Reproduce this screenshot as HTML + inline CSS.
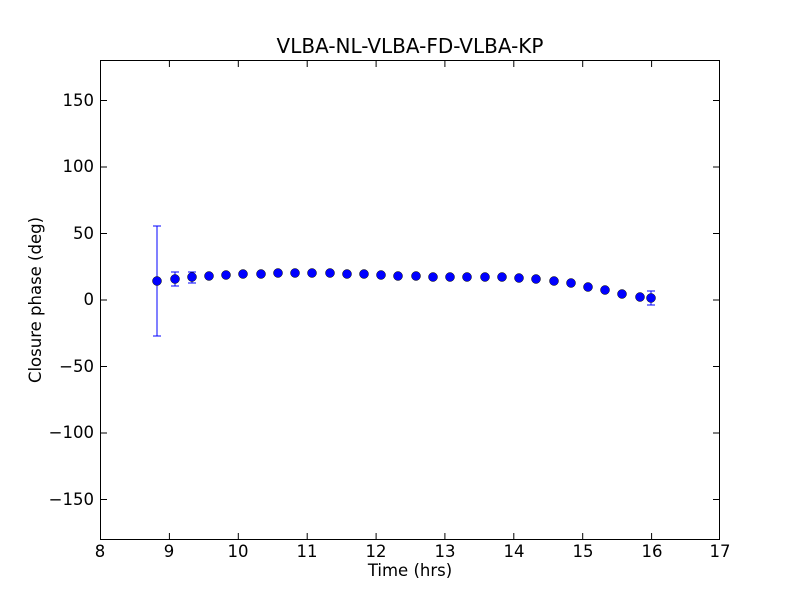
<!DOCTYPE html>
<html><head><style>body{margin:0;background:#fff}</style></head><body>
<svg width="800" height="600" xmlns="http://www.w3.org/2000/svg" font-family="DejaVu Sans, sans-serif">
<rect width="800" height="600" fill="#fff"/>
<text x="410" y="53" font-size="20" text-anchor="middle">VLBA-NL-VLBA-FD-VLBA-KP</text>
<g stroke="#000" stroke-width="1">
<line x1="100.5" y1="533" x2="100.5" y2="540"/><line x1="100.5" y1="60" x2="100.5" y2="67"/>
<line x1="169.4" y1="533" x2="169.4" y2="540"/><line x1="169.4" y1="60" x2="169.4" y2="67"/>
<line x1="238.3" y1="533" x2="238.3" y2="540"/><line x1="238.3" y1="60" x2="238.3" y2="67"/>
<line x1="307.2" y1="533" x2="307.2" y2="540"/><line x1="307.2" y1="60" x2="307.2" y2="67"/>
<line x1="376.1" y1="533" x2="376.1" y2="540"/><line x1="376.1" y1="60" x2="376.1" y2="67"/>
<line x1="444.9" y1="533" x2="444.9" y2="540"/><line x1="444.9" y1="60" x2="444.9" y2="67"/>
<line x1="513.8" y1="533" x2="513.8" y2="540"/><line x1="513.8" y1="60" x2="513.8" y2="67"/>
<line x1="582.7" y1="533" x2="582.7" y2="540"/><line x1="582.7" y1="60" x2="582.7" y2="67"/>
<line x1="651.6" y1="533" x2="651.6" y2="540"/><line x1="651.6" y1="60" x2="651.6" y2="67"/>
<line x1="100" y1="100.5" x2="107" y2="100.5"/><line x1="713" y1="100.5" x2="720" y2="100.5"/>
<line x1="100" y1="167" x2="107" y2="167"/><line x1="713" y1="167" x2="720" y2="167"/>
<line x1="100" y1="233.5" x2="107" y2="233.5"/><line x1="713" y1="233.5" x2="720" y2="233.5"/>
<line x1="100" y1="300" x2="107" y2="300"/><line x1="713" y1="300" x2="720" y2="300"/>
<line x1="100" y1="366.5" x2="107" y2="366.5"/><line x1="713" y1="366.5" x2="720" y2="366.5"/>
<line x1="100" y1="433" x2="107" y2="433"/><line x1="713" y1="433" x2="720" y2="433"/>
<line x1="100" y1="499.5" x2="107" y2="499.5"/><line x1="713" y1="499.5" x2="720" y2="499.5"/>
</g>
<g font-size="16.5" text-anchor="middle">
<text x="100" y="557">8</text><text x="169" y="557">9</text><text x="238" y="557">10</text><text x="307" y="557">11</text><text x="376" y="557">12</text><text x="445" y="557">13</text><text x="514" y="557">14</text><text x="583" y="557">15</text><text x="652" y="557">16</text><text x="720" y="557">17</text>
</g>
<g font-size="16.5" text-anchor="end">
<text x="94" y="106">150</text><text x="94" y="172">100</text><text x="94" y="239">50</text><text x="94" y="305">0</text><text x="94" y="372">−50</text><text x="94" y="438">−100</text><text x="94" y="505">−150</text>
</g>
<text x="410" y="576" font-size="16.5" text-anchor="middle">Time (hrs)</text>
<text transform="translate(41,300) rotate(-90)" font-size="16.5" text-anchor="middle">Closure phase (deg)</text>
<g stroke="#0000ff" stroke-width="1" fill="none">
<line x1="157" y1="226" x2="157" y2="336"/><line x1="153" y1="226" x2="161" y2="226"/><line x1="153" y1="336" x2="161" y2="336"/>
<line x1="175" y1="272" x2="175" y2="286"/><line x1="171" y1="272" x2="179" y2="272"/><line x1="171" y1="286" x2="179" y2="286"/>
<line x1="192" y1="272" x2="192" y2="283"/><line x1="188" y1="272" x2="196" y2="272"/><line x1="188" y1="283" x2="196" y2="283"/>
<line x1="651" y1="291" x2="651" y2="305"/><line x1="647" y1="291" x2="655" y2="291"/><line x1="647" y1="305" x2="655" y2="305"/>
</g>
<g fill="#0000ff" stroke="#000" stroke-width="0.5">
<circle cx="157" cy="281" r="4.5"/><circle cx="175" cy="279" r="4.5"/><circle cx="192" cy="277" r="4.5"/><circle cx="209" cy="276" r="4.5"/><circle cx="226" cy="275" r="4.5"/><circle cx="243" cy="274" r="4.5"/><circle cx="261" cy="274" r="4.5"/><circle cx="278" cy="273" r="4.5"/><circle cx="295" cy="273" r="4.5"/><circle cx="312" cy="273" r="4.5"/><circle cx="330" cy="273" r="4.5"/><circle cx="347" cy="274" r="4.5"/><circle cx="364" cy="274" r="4.5"/><circle cx="381" cy="275" r="4.5"/><circle cx="398" cy="276" r="4.5"/><circle cx="416" cy="276" r="4.5"/><circle cx="433" cy="277" r="4.5"/><circle cx="450" cy="277" r="4.5"/><circle cx="467" cy="277" r="4.5"/><circle cx="485" cy="277" r="4.5"/><circle cx="502" cy="277" r="4.5"/><circle cx="519" cy="278" r="4.5"/><circle cx="536" cy="279" r="4.5"/><circle cx="554" cy="281" r="4.5"/><circle cx="571" cy="283" r="4.5"/><circle cx="588" cy="287" r="4.5"/><circle cx="605" cy="290" r="4.5"/><circle cx="622" cy="294" r="4.5"/><circle cx="640" cy="297" r="4.5"/><circle cx="651" cy="298" r="4.5"/>
</g>
<rect x="100.5" y="60.5" width="619" height="479" fill="none" stroke="#000" stroke-width="1"/>
</svg>
</body></html>
